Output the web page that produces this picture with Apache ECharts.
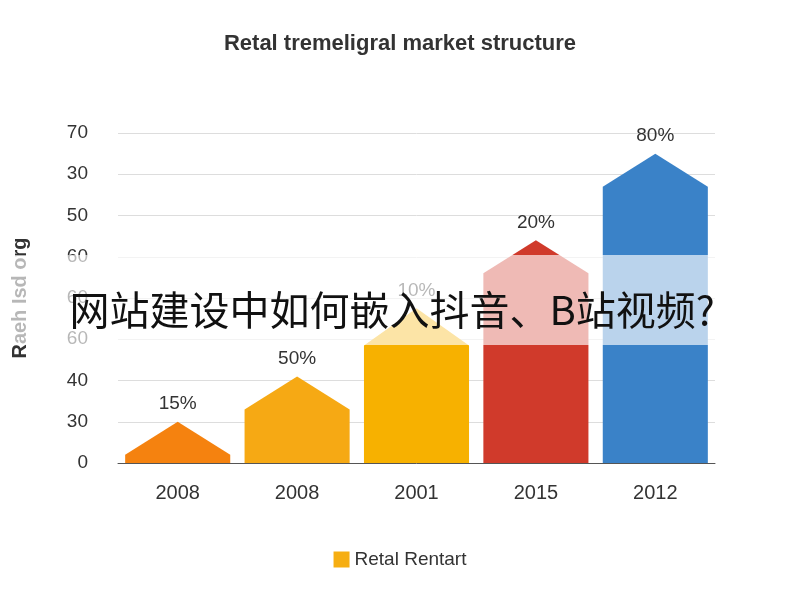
<!DOCTYPE html>
<html><head><meta charset="utf-8">
<script src="https://cdn.jsdelivr.net/npm/echarts@6/dist/echarts.min.js"></script>
<style>html,body{margin:0;padding:0;background:#fff}#c{width:800px;height:600px}</style>
</head><body><div id="c"></div>
<script>
const categories = ['2008','2008','2001','2015','2012'];
const peakValues = [10, 21, 37.5, 54, 75];
const shoulderValues = [2, 13, 28.5, 46, 67];
const barLabels = ['15%','50%','10%','20%','80%'];
const tickLabels = ['0','30','40','60','60','60','50','30','70'];
const colors = ['#F5820F','#F6A914','#F7B100','#D03A2B','#3A82C8'];

const chart = echarts.init(document.getElementById('c'));
chart.setOption({
  animation:false,
  title:{text:'Retal tremeligral market structure',left:'center',top:28,textStyle:{fontSize:22,fontWeight:'bold',color:'#333',fontFamily:'Liberation Sans'}},
  grid:{left:118,right:85,top:133,bottom:137},
  xAxis:{type:'category',data:categories,axisTick:{show:false},axisLine:{lineStyle:{color:'#555'}},
    axisLabel:{fontSize:20,color:'#333',margin:20}},
  yAxis:{type:'value',min:0,max:80,interval:10,name:'Raeh Isd org',nameLocation:'middle',nameGap:88,
    nameTextStyle:{fontSize:20,fontWeight:'bold',color:'#333'},
    axisLabel:{fontSize:19,color:'#333',margin:30,formatter:(v)=>tickLabels[Math.round(v/10)]},
    splitLine:{lineStyle:{color:'#ddd'}}},
  legend:{bottom:26,left:'center',itemWidth:16,itemHeight:16,icon:'rect',textStyle:{fontSize:19,color:'#333'},data:['Retal Rentart']},
  series:[{
    name:'Retal Rentart',type:'custom',itemStyle:{color:'#F6AE12'},
    data:peakValues.map((v,i)=>[i,v,shoulderValues[i]]),
    renderItem:(params,api)=>{
      const i=api.value(0);
      const p=api.coord([i,api.value(1)]);
      const s=api.coord([i,api.value(2)]);
      const b=api.coord([i,0]);
      const w=api.size([1,0])[0]*0.88/2;
      return {type:'group',children:[
        {type:'polygon',shape:{points:[[p[0]-w,b[1]],[p[0]-w,s[1]],[p[0],p[1]],[p[0]+w,s[1]],[p[0]+w,b[1]]]},
          style:{fill:colors[i]}},
        {type:'text',style:{text:barLabels[i],x:p[0],y:p[1]-8,align:'center',verticalAlign:'bottom',fontSize:19,fill:'#333'}}
      ]};
    }
  }],
  graphic:[
    {type:'rect',shape:{x:0,y:255,width:800,height:90},style:{fill:'rgba(255,255,255,0.65)'},z:100},
    {type:'text',style:{text:'网站建设中如何嵌入抖音、B站视频?',x:392,y:310,align:'center',verticalAlign:'middle',fontSize:40,fill:'#111',fontFamily:'Noto Sans CJK SC'},z:101}
  ]
});
</script></body></html>
